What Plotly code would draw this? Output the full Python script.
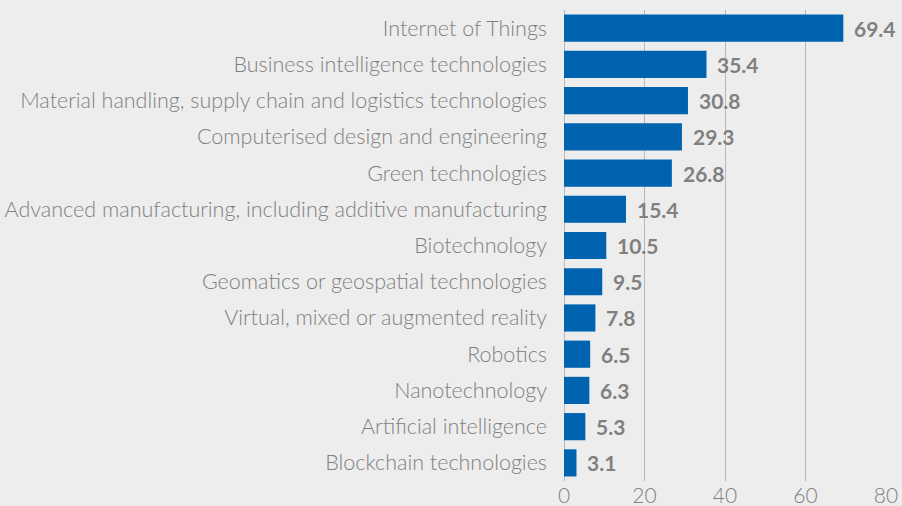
import plotly.graph_objects as go

categories = [
    "Internet of Things",
    "Business intelligence technologies",
    "Material handling, supply chain and logistics technologies",
    "Computerised design and engineering",
    "Green technologies",
    "Advanced manufacturing, including additive manufacturing",
    "Biotechnology",
    "Geomatics or geospatial technologies",
    "Virtual, mixed or augmented reality",
    "Robotics",
    "Nanotechnology",
    "Artificial intelligence",
    "Blockchain technologies",
]
values = [69.4, 35.4, 30.8, 29.3, 26.8, 15.4, 10.5, 9.5, 7.8, 6.5, 6.3, 5.3, 3.1]
x_ticks = [0, 20, 40, 60, 80]

BG = "#ededed"
BAR = "#0063b0"
GRAY = "#808080"
FONT = "Lato, Noto Sans, sans-serif"

fig = go.Figure()
fig.add_trace(go.Bar(
    y=categories, x=values, orientation="h",
    marker=dict(color=BAR, line=dict(width=0)),
    hoverinfo="skip",
))

for c, v in zip(categories, values):
    fig.add_annotation(
        x=v, y=c, text=f"<b>{v:.1f}</b>", showarrow=False,
        xanchor="left", xshift=9, yshift=0,
        font=dict(family=FONT, size=21, color=GRAY),
    )

fig.update_layout(
    width=902, height=506,
    margin=dict(l=564, r=16, t=10, b=25),
    paper_bgcolor=BG, plot_bgcolor=BG,
    bargap=0.25,
    showlegend=False,
    font=dict(family=FONT, color=GRAY),
    xaxis=dict(
        range=[0, 80], tickvals=x_ticks, showgrid=True, gridcolor="#b8b8b8",
        gridwidth=1, zeroline=True, zerolinecolor="#b8b8b8", zerolinewidth=1,
        tickfont=dict(size=21, color=GRAY, weight=300), ticks="", fixedrange=True,
        automargin=False,
    ),
    yaxis=dict(
        categoryorder="array", categoryarray=categories[::-1],
        tickfont=dict(size=21.5, color=GRAY, weight=300), ticks="", ticklen=0,
        ticklabelstandoff=16, fixedrange=True,
        showgrid=False, automargin=False,
    ),
)

fig.write_html(
    "out.html",
    config={"displayModeBar": False},
    post_script="document.body.style.margin='0';document.body.style.background='#ededed';",
)
